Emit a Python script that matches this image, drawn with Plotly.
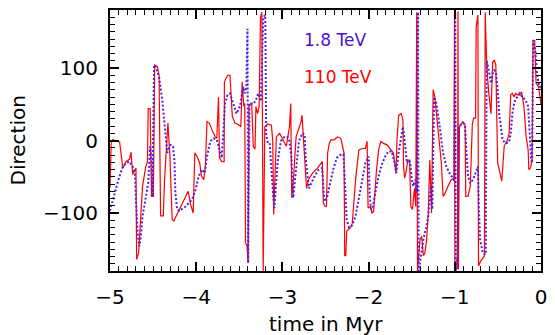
import plotly.graph_objects as go

# Direction of the field (degrees) versus time (Myr) for two energies.
t_110 = [
    -5.000, -4.985, -4.966, -4.889, -4.851, -4.813, -4.775, -4.756, -4.737, -4.717,
    -4.699, -4.691, -4.668, -4.622, -4.585, -4.565, -4.557, -4.534, -4.519, -4.497,
    -4.482, -4.451, -4.431, -4.413, -4.382, -4.367, -4.344, -4.328, -4.305, -4.279,
    -4.260, -4.222, -4.199, -4.153, -4.122, -4.093, -4.065, -4.035, -4.016, -3.990,
    -3.959, -3.939, -3.913, -3.894, -3.875, -3.848, -3.818, -3.779, -3.761, -3.741,
    -3.730, -3.704, -3.676, -3.673, -3.635, -3.608, -3.581, -3.550, -3.513, -3.482,
    -3.467, -3.447, -3.437, -3.428, -3.410, -3.398, -3.387, -3.356, -3.338, -3.318,
    -3.307, -3.288, -3.270, -3.254, -3.238, -3.223, -3.204, -3.169, -3.127, -3.112,
    -3.101, -3.070, -3.032, -2.994, -2.955, -2.918, -2.903, -2.892, -2.872, -2.841,
    -2.811, -2.784, -2.773, -2.757, -2.735, -2.720, -2.697, -2.651, -2.594, -2.555,
    -2.537, -2.525, -2.506, -2.489, -2.475, -2.457, -2.437, -2.400, -2.360, -2.323,
    -2.303, -2.285, -2.277, -2.265, -2.254, -2.208, -2.189, -2.151, -2.113, -2.074,
    -2.037, -2.017, -2.006, -1.979, -1.960, -1.942, -1.911, -1.884, -1.857, -1.827,
    -1.788, -1.751, -1.713, -1.682, -1.671, -1.651, -1.621, -1.602, -1.594, -1.582,
    -1.568, -1.545, -1.525, -1.510, -1.491, -1.468, -1.453, -1.442, -1.433, -1.404,
    -1.384, -1.365, -1.347, -1.327, -1.308, -1.290, -1.282, -1.270, -1.251, -1.232,
    -1.213, -1.193, -1.175, -1.156, -1.136, -1.118, -1.079, -1.041, -1.010, -1.003,
    -0.999, -0.969, -0.963, -0.958, -0.946, -0.907, -0.881, -0.873, -0.847, -0.820,
    -0.797, -0.782, -0.759, -0.752, -0.732, -0.725, -0.698, -0.675, -0.656, -0.647,
    -0.630, -0.606, -0.580, -0.561, -0.542, -0.524, -0.503, -0.485, -0.455, -0.427,
    -0.389, -0.370, -0.351, -0.332, -0.312, -0.293, -0.275, -0.248, -0.225, -0.198,
    -0.172, -0.149, -0.141, -0.122, -0.103, -0.092, -0.073, -0.057, -0.027, 0.000,
]
dir_110 = [
    -65, -1, 1, -2, -38, -29, -26, -16, -47, -43,
    -38, -164, -155, -63, -36, -29, 44, 44, -77, -77,
    104, 102, 90, -104, -104, -54, -13, 24, -22, -109,
    -111, -102, -95, -86, -79, -70, -88, -100, -17, -22,
    -31, -49, -54, -36, 26, 24, 15, 5, 3, 60,
    -24, -29, -29, 81, 90, 90, 33, 24, 22, 19,
    81, 47, 51, -141, -146, -169, 49, 51, -8, -12,
    47, 37, 47, 170, 177, -180, 19, 23, 21, -1,
    -102, 5, 10, 1, -8, 19, 51, -79, -54, 5,
    15, 26, 35, -1, -36, -66, -54, -45, -38, -31,
    -29, -86, -91, -91, -17, -4, 1, 1, 5, 3,
    -8, -17, -159, -159, -125, -120, -114, -54, -13, -11,
    -11, -1, -93, -91, -100, -98, -45, -13, -1, -4,
    -6, -11, -17, -45, 1, 35, 37, 28, -36, -52,
    -45, -27, -27, -91, -95, -66, -91, 177, -180, -137,
    -132, -159, -155, -137, -100, -27, -49, -100, 70, 60,
    37, 10, -17, -31, -77, -74, -63, -54, -52, 178,
    -178, -176, 178, -178, 19, 26, 22, -77, -77, -63,
    22, 31, 31, 157, 173, -173, -166, -162, -159, 177,
    104, 65, 37, 108, 111, 104, -31, -40, -56, -8,
    1, 10, 63, 65, 60, 65, 63, 63, 67, 47,
    5, -13, -40, -38, -27, 138, 138, 79, 74, 49,
]

t_1p8 = [
    -5.000, -4.966, -4.928, -4.889, -4.851, -4.813, -4.775, -4.737, -4.711, -4.699,
    -4.680, -4.660, -4.642, -4.622, -4.585, -4.557, -4.534, -4.519, -4.508, -4.489,
    -4.470, -4.431, -4.394, -4.374, -4.356, -4.336, -4.299, -4.268, -4.252, -4.242,
    -4.222, -4.199, -4.122, -4.047, -4.008, -3.970, -3.932, -3.902, -3.875, -3.836,
    -3.799, -3.761, -3.741, -3.722, -3.704, -3.665, -3.636, -3.608, -3.570, -3.532,
    -3.493, -3.455, -3.436, -3.418, -3.405, -3.397, -3.382, -3.330, -3.307, -3.281,
    -3.250, -3.222, -3.199, -3.188, -3.167, -3.147, -3.112, -3.094, -3.055, -3.018,
    -2.978, -2.941, -2.918, -2.895, -2.875, -2.849, -2.808, -2.769, -2.742, -2.731,
    -2.712, -2.692, -2.654, -2.617, -2.578, -2.540, -2.529, -2.514, -2.483, -2.445,
    -2.407, -2.368, -2.331, -2.292, -2.273, -2.254, -2.228, -2.189, -2.151, -2.113,
    -2.074, -2.037, -1.999, -1.988, -1.972, -1.950, -1.922, -1.884, -1.846, -1.808,
    -1.770, -1.731, -1.698, -1.679, -1.652, -1.622, -1.602, -1.591, -1.576, -1.556,
    -1.530, -1.516, -1.499, -1.480, -1.461, -1.442, -1.427, -1.419, -1.404, -1.384,
    -1.365, -1.347, -1.327, -1.308, -1.290, -1.278, -1.262, -1.240, -1.213, -1.193,
    -1.175, -1.156, -1.136, -1.098, -1.061, -1.022, -1.007, -0.995, -0.989, -0.967,
    -0.956, -0.907, -0.881, -0.866, -0.847, -0.820, -0.789, -0.759, -0.732, -0.721,
    -0.706, -0.675, -0.656, -0.641, -0.630, -0.606, -0.580, -0.561, -0.542, -0.524,
    -0.503, -0.485, -0.466, -0.446, -0.409, -0.370, -0.351, -0.332, -0.312, -0.293,
    -0.275, -0.248, -0.217, -0.180, -0.149, -0.130, -0.114, -0.103, -0.092, -0.066,
    -0.046, -0.020, 0.000,
]
dir_1p8 = [
    -97, -81, -65, -49, -36, -31, -29, -36, -45, -81,
    -127, -146, -132, -104, -77, -59, -8, -27, -77, 104,
    102, 88, 56, 28, 5, -17, -6, -8, -29, -72,
    -95, -97, -91, -81, -68, -49, -40, -45, -22, -1,
    3, 1, -8, -17, -24, 51, 63, 65, 51, 37,
    47, 74, 65, 74, 154, -169, 51, 51, 56, 65,
    54, 170, 173, 8, -5, -5, -66, -93, -29, -1,
    5, 5, -1, -24, -79, -49, -1, 10, 8, -24,
    -47, -66, -56, -47, -40, -38, -56, -84, -79, -56,
    -38, -24, -20, -19, -70, -109, -120, -117, -104, -81,
    -54, -31, -22, -72, -95, -91, -72, -49, -33, -22,
    -15, -15, -31, -45, -17, 5, 19, 10, -8, -31,
    -27, -31, -54, -63, -54, -72, 177, -180, -168, -150,
    -137, -127, -118, -104, -81, -63, -95, 60, 51, 37,
    19, 1, -17, -36, -45, -52, -56, 177, -180, -160,
    19, 24, 22, -13, -49, -59, -54, -45, -36, -91,
    -137, -155, -157, -157, 110, 97, 79, 92, 97, 95,
    70, 37, 15, 1, -4, -2, 10, 37, 51, 58,
    60, 65, 60, 56, 47, 10, -27, -31, 138, 124,
    92, 74, 74,
]

x_ticks = [-5, -4, -3, -2, -1, 0]
y_ticks = [-100, 0, 100]
label_1p8 = "1.8 TeV"
label_110 = "110 TeV"
x_title = "time in Myr"
y_title = "Direction"

RED = "#ff0000"
BLUE = "#5020e0"
FONT = "DejaVu Sans"

fig = go.Figure()
fig.add_trace(go.Scatter(
    x=t_110, y=dir_110, mode="lines",
    line=dict(color=RED, width=1.2), showlegend=False,
))
fig.add_trace(go.Scatter(
    x=t_1p8, y=dir_1p8, mode="lines",
    line=dict(color=BLUE, width=2, dash="2px,2px"), showlegend=False,
))

axis_common = dict(
    showgrid=False, zeroline=False,
    showline=True, linecolor="black", linewidth=2, mirror="allticks",
    ticks="inside", ticklen=9, tickwidth=1.5, tickcolor="black",
    tickfont=dict(family=FONT, size=20, color="black"),
)

fig.update_xaxes(
    range=[-5, 0], tickvals=x_ticks,
    minor=dict(dtick=0.1, ticks="inside", ticklen=5, tickwidth=1, tickcolor="black"),
    ticklabelstandoff=7,
    **axis_common,
)
fig.update_yaxes(
    range=[-180, 180], tickvals=y_ticks,
    minor=dict(dtick=10, ticks="inside", ticklen=5, tickwidth=1, tickcolor="black"),
    ticklabelstandoff=6,
    **axis_common,
)

fig.add_annotation(
    text=label_1p8, x=-2.77, y=138, xref="x", yref="y",
    xanchor="left", yanchor="middle", showarrow=False,
    font=dict(family=FONT, size=17, color="#4b14d2"),
)
fig.add_annotation(
    text=label_110, x=-2.77, y=87, xref="x", yref="y",
    xanchor="left", yanchor="middle", showarrow=False,
    font=dict(family=FONT, size=17, color=RED),
)
fig.add_annotation(
    text=x_title, x=0.5, y=0, xref="paper", yref="paper",
    xanchor="center", yanchor="middle", yshift=-53, showarrow=False,
    font=dict(family=FONT, size=20, color="black"),
)
fig.add_annotation(
    text=y_title, x=0, y=0.5, xref="paper", yref="paper",
    xanchor="center", yanchor="middle", xshift=-93, textangle=-90,
    showarrow=False, font=dict(family=FONT, size=20, color="black"),
)

fig.update_layout(
    width=555, height=335,
    margin=dict(l=110, r=8, t=8, b=64),
    paper_bgcolor="white", plot_bgcolor="white",
)

fig.write_html("out.html")
